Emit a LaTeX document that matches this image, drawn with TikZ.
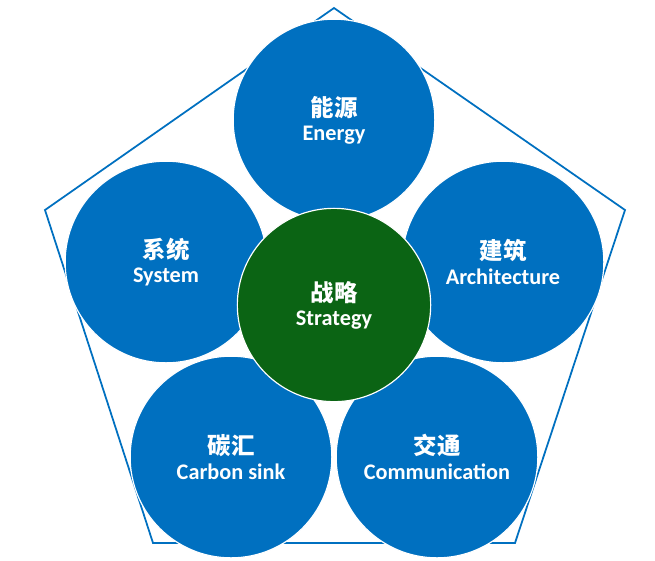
\documentclass[tikz,border=0pt]{standalone}
\usepackage{fontspec}
\setmainfont{Carlito}
\newfontfamily\cjk{Noto Sans CJK SC}
\definecolor{petal}{HTML}{0070C0}
\definecolor{core}{HTML}{0B6414}
\tikzset{
  petal/.style={circle, fill=petal, draw=white, line width=1pt, minimum size=6.05cm, text=white, align=center, inner sep=0pt},
  core/.style={petal, fill=core, minimum size=5.8cm},
  frame/.style={draw=petal, fill=white, line width=1.5pt},
}
\newcommand{\petaltext}[2]{{\cjk\bfseries\fontsize{20}{24}\selectfont #1}\\[5pt]{\bfseries\fontsize{19}{20}\selectfont #2}}
\begin{document}
\begin{tikzpicture}[x=0.03cm, y=-0.03cm]
  \useasboundingbox (0,0) rectangle (655,560);
  \draw[frame] (334,8) -- (625,210) -- (515,543) -- (153,543) -- (45,210) -- cycle;
  \node[petal] (energy) at (334,120) {\petaltext{能源}{Energy}};
  \node[petal] (system) at (166,262) {\petaltext{系统}{System}};
  \node[petal] (arch) at (503,262) {\petaltext{建筑}{Architecture}};
  \node[petal] (sink) at (231,457) {\petaltext{碳汇}{Carbon sink}};
  \node[petal] (comm) at (437,457) {\petaltext{交通}{Communication}};
  \node[core] (strategy) at (334,305) {\petaltext{战略}{Strategy}};
\end{tikzpicture}
\end{document}
